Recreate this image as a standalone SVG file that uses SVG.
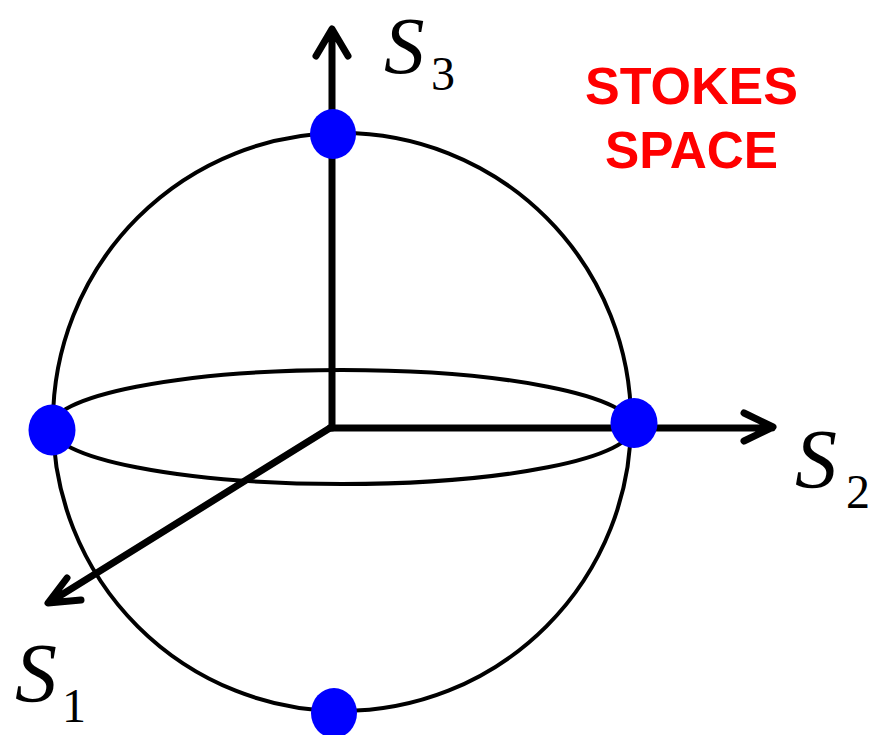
<svg xmlns="http://www.w3.org/2000/svg" width="883" height="735" viewBox="0 0 883 735">
<style>
.ln{fill:none;stroke:#000;stroke-width:4}
.ax{fill:none;stroke:#000;stroke-width:7;stroke-linecap:round;stroke-linejoin:round}
.dot{fill:#0000ff}
.S{font-family:"Liberation Serif",serif;font-style:italic;font-size:84px;fill:#000}
.sub{font-family:"Liberation Serif",serif;font-size:48px;fill:#000}
.title{font-family:"Liberation Sans",Arial,sans-serif;font-weight:bold;font-size:52px;fill:#ff0000}
</style>
<rect width="883" height="735" fill="#fff"/>
<g id="sphere">
<circle class="ln" cx="342" cy="422" r="289"/>
<ellipse class="ln" cx="342" cy="427" rx="291" ry="57"/>
</g>
<g id="connectors">
<path class="ax" d="M332 428 V30 M316 56 L332 29 L348 56"/>
<path class="ax" d="M330 428 H772 M744 413 L773 427 L744 441"/>
<path class="ax" d="M330 428 L50 602 M67 578 L48 603 L81 600"/>
</g>
<g id="dots">
<ellipse class="dot" cx="333" cy="134" rx="23" ry="25"/>
<ellipse class="dot" cx="52" cy="430" rx="23.5" ry="25.5"/>
<ellipse class="dot" cx="634" cy="423" rx="23.5" ry="25"/>
<ellipse class="dot" cx="334" cy="713" rx="23" ry="25"/>
</g>
<g id="label-s3"><text class="S" x="384" y="73" style="font-size:81px">S</text><text class="sub" x="431" y="90">3</text></g>
<g id="label-s2"><text class="S" x="795" y="488">S</text><text class="sub" x="846" y="508">2</text></g>
<g id="label-s1"><text class="S" x="15" y="702">S</text><text class="sub" x="62" y="722">1</text></g>
<g id="title">
<text class="title" x="585" y="104" textLength="213" lengthAdjust="spacingAndGlyphs">STOKES</text>
<text class="title" x="605" y="168" textLength="173" lengthAdjust="spacingAndGlyphs">SPACE</text>
</g>
</svg>
